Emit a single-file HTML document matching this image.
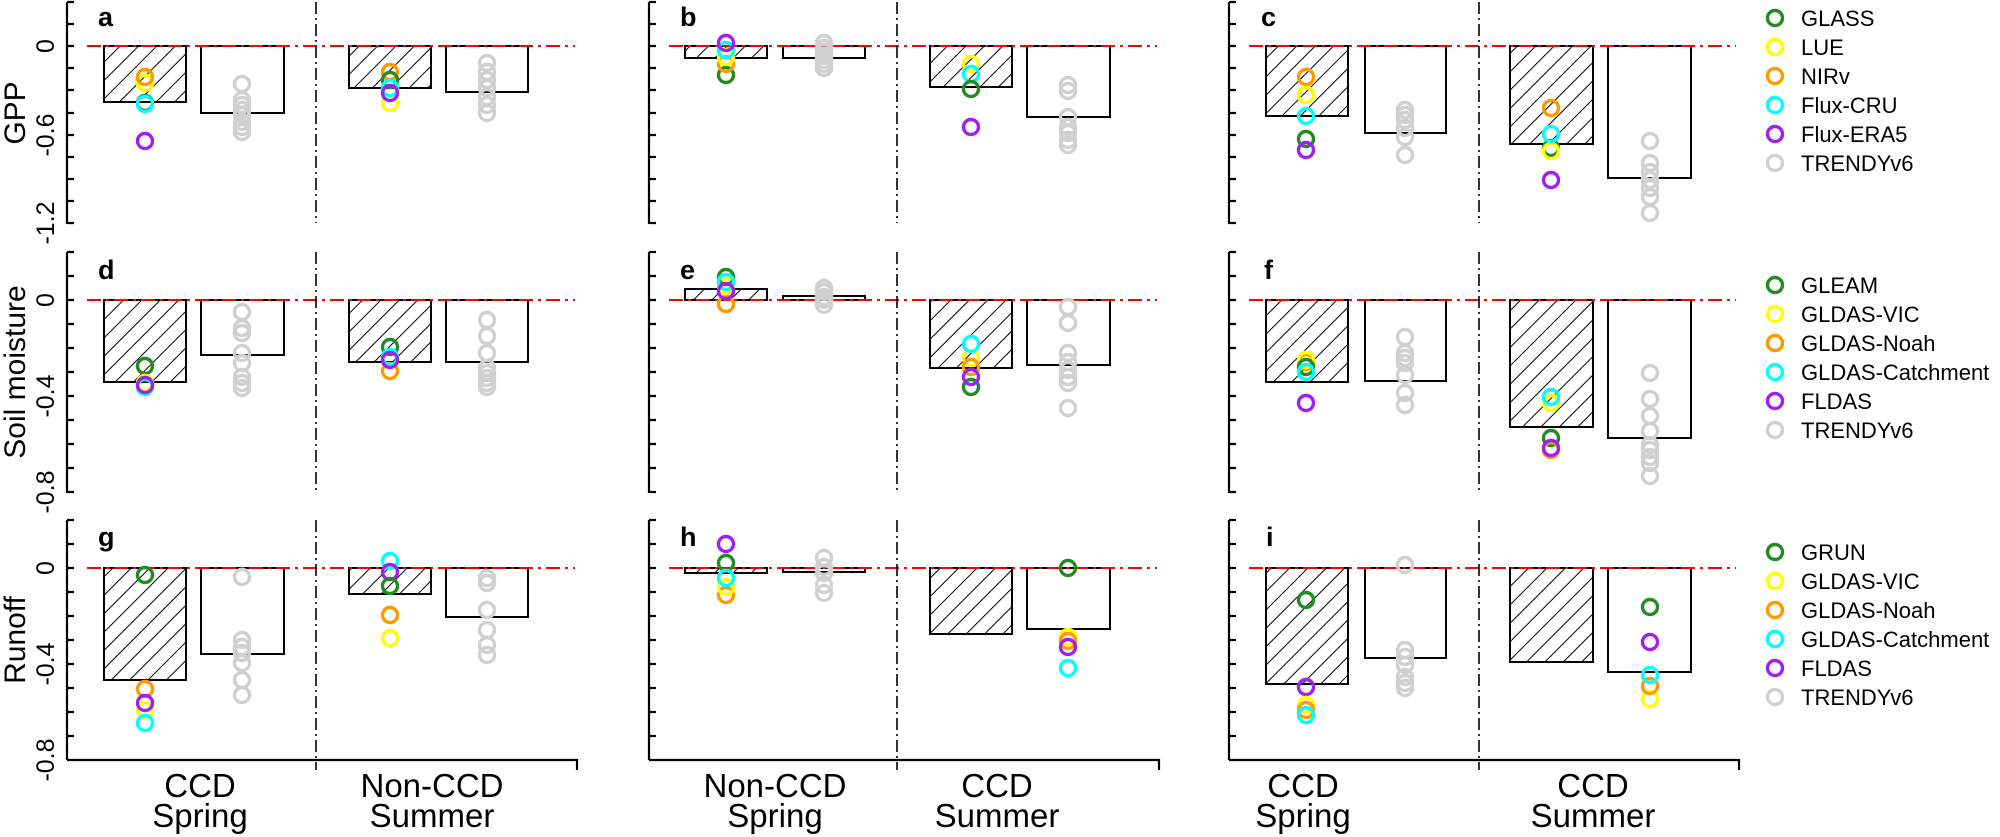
<!DOCTYPE html>
<html><head><meta charset="utf-8"><style>
html,body{margin:0;padding:0;background:#fff}
svg{display:block}
text{font-family:"Liberation Sans",Arial,sans-serif;fill:#000}
.ax{stroke:#000;stroke-width:2.2;fill:none}
.dv{stroke:#000;stroke-width:1.6;stroke-dasharray:12 4 2 4;fill:none}
.rd{stroke:#ff0000;stroke-width:2;stroke-dasharray:14 5 3 5;fill:none}
.hb{fill:url(#h);stroke:#000;stroke-width:2}
.ob{fill:none;stroke:#000;stroke-width:2}
circle{fill:none;stroke-width:3.4}
.G{stroke:#228B22}.Y{stroke:#FFFF00}.O{stroke:#FF9900}.C{stroke:#00FFFF}.P{stroke:#A020F0}.R{stroke:#D0D0D0}
.tl{font-size:25px}
.yl{font-size:30px}
.pl{font-size:27px;font-weight:bold}
.xl{font-size:33px}
.lg{font-size:22px}
</style></head><body>
<svg width="2000" height="837" viewBox="0 0 2000 837" xmlns="http://www.w3.org/2000/svg">
<defs>
<pattern id="h" patternUnits="userSpaceOnUse" width="13" height="13" patternTransform="rotate(45)">
<line x1="0" y1="0" x2="0" y2="13" stroke="#000" stroke-width="2"/>
</pattern>
</defs>

<rect class="hb" x="104" y="46" width="82" height="56"/>
<rect class="ob" x="201" y="46" width="83" height="67"/>
<rect class="hb" x="349" y="46" width="82" height="42"/>
<rect class="ob" x="446" y="46" width="82" height="46"/>
<rect class="hb" x="685" y="46" width="82" height="12"/>
<rect class="ob" x="783" y="46" width="82" height="12"/>
<rect class="hb" x="930" y="46" width="82" height="41"/>
<rect class="ob" x="1027" y="46" width="83" height="71"/>
<rect class="hb" x="1266" y="46" width="82" height="70"/>
<rect class="ob" x="1365" y="46" width="81" height="87"/>
<rect class="hb" x="1510" y="46" width="83" height="98"/>
<rect class="ob" x="1608" y="46" width="83" height="132"/>
<rect class="hb" x="104" y="300" width="82" height="82"/>
<rect class="ob" x="201" y="300" width="83" height="55"/>
<rect class="hb" x="349" y="300" width="82" height="62"/>
<rect class="ob" x="446" y="300" width="82" height="62"/>
<rect class="hb" x="685" y="289" width="82" height="11"/>
<rect class="ob" x="783" y="296" width="82" height="4"/>
<rect class="hb" x="930" y="300" width="82" height="68"/>
<rect class="ob" x="1027" y="300" width="83" height="65"/>
<rect class="hb" x="1266" y="300" width="82" height="82"/>
<rect class="ob" x="1365" y="300" width="81" height="81"/>
<rect class="hb" x="1510" y="300" width="83" height="127"/>
<rect class="ob" x="1608" y="300" width="83" height="138"/>
<rect class="hb" x="104" y="568" width="82" height="112"/>
<rect class="ob" x="201" y="568" width="83" height="86"/>
<rect class="hb" x="349" y="568" width="82" height="26"/>
<rect class="ob" x="446" y="568" width="82" height="49"/>
<rect class="hb" x="685" y="568" width="82" height="5"/>
<rect class="ob" x="783" y="568" width="82" height="4"/>
<rect class="hb" x="930" y="568" width="82" height="66"/>
<rect class="ob" x="1027" y="568" width="83" height="61"/>
<rect class="hb" x="1266" y="568" width="82" height="116"/>
<rect class="ob" x="1365" y="568" width="81" height="90"/>
<rect class="hb" x="1510" y="568" width="83" height="94"/>
<rect class="ob" x="1608" y="568" width="83" height="104"/>

<path class="rd" d="M87,46H575 M669,46H1157 M1249,46H1736 M87,300H575 M669,300H1157 M1249,300H1736 M87,568H575 M669,568H1157 M1249,568H1736"/>

<path class="dv" d="M316,2V223 M897,2V223 M1479,2V223 M316,252V492 M897,252V492 M1479,252V492 M316,520V770 M897,520V770 M1479,520V770"/>

<path class="ax" d="M67,2V224 M67,2h7 M67,24h7 M67,46h7 M67,68h7 M67,90h7 M67,113h7 M67,135h7 M67,157h7 M67,179h7 M67,201h7 M67,223h7"/>
<path class="ax" d="M649,2V224 M649,2h7 M649,24h7 M649,46h7 M649,68h7 M649,90h7 M649,113h7 M649,135h7 M649,157h7 M649,179h7 M649,201h7 M649,223h7"/>
<path class="ax" d="M1229,2V224 M1229,2h7 M1229,24h7 M1229,46h7 M1229,68h7 M1229,90h7 M1229,113h7 M1229,135h7 M1229,157h7 M1229,179h7 M1229,201h7 M1229,223h7"/>
<path class="ax" d="M67,252V493 M67,252h7 M67,276h7 M67,300h7 M67,324h7 M67,348h7 M67,372h7 M67,396h7 M67,420h7 M67,444h7 M67,468h7 M67,492h7"/>
<path class="ax" d="M649,252V493 M649,252h7 M649,276h7 M649,300h7 M649,324h7 M649,348h7 M649,372h7 M649,396h7 M649,420h7 M649,444h7 M649,468h7 M649,492h7"/>
<path class="ax" d="M1229,252V493 M1229,252h7 M1229,276h7 M1229,300h7 M1229,324h7 M1229,348h7 M1229,372h7 M1229,396h7 M1229,420h7 M1229,444h7 M1229,468h7 M1229,492h7"/>
<path class="ax" d="M67,520V760 M67,520h7 M67,544h7 M67,568h7 M67,592h7 M67,616h7 M67,640h7 M67,664h7 M67,688h7 M67,712h7 M67,736h7 M67,760H577V770"/>
<path class="ax" d="M649,520V760 M649,520h7 M649,544h7 M649,568h7 M649,592h7 M649,616h7 M649,640h7 M649,664h7 M649,688h7 M649,712h7 M649,736h7 M649,760H1159V770"/>
<path class="ax" d="M1229,520V760 M1229,520h7 M1229,544h7 M1229,568h7 M1229,592h7 M1229,616h7 M1229,640h7 M1229,664h7 M1229,688h7 M1229,712h7 M1229,736h7 M1229,760H1739V770"/>

<g class="tl" text-anchor="middle">
<text transform="translate(54,46) rotate(-90)">0</text>
<text transform="translate(54,135) rotate(-90)">-0.6</text>
<text transform="translate(54,223) rotate(-90)">-1.2</text>
<text transform="translate(54,300) rotate(-90)">0</text>
<text transform="translate(54,396) rotate(-90)">-0.4</text>
<text transform="translate(54,492) rotate(-90)">-0.8</text>
<text transform="translate(54,568) rotate(-90)">0</text>
<text transform="translate(54,664) rotate(-90)">-0.4</text>
<text transform="translate(54,760) rotate(-90)">-0.8</text>
</g>
<g class="yl" text-anchor="middle">
<text transform="translate(25,113) rotate(-90)">GPP</text>
<text transform="translate(25,372) rotate(-90)">Soil moisture</text>
<text transform="translate(25,640) rotate(-90)">Runoff</text>
</g>

<g class="pl">
<text x="98" y="26">a</text><text x="680" y="26">b</text><text x="1261" y="26">c</text>
<text x="98" y="279">d</text><text x="680" y="279">e</text><text x="1264" y="279">f</text>
<text x="98" y="546">g</text><text x="680" y="546">h</text><text x="1266" y="546">i</text>
</g>

<g class="xl" text-anchor="middle">
<text x="200" y="797">CCD</text><text x="200" y="827">Spring</text>
<text x="432" y="797">Non-CCD</text><text x="432" y="827">Summer</text>
<text x="775" y="797">Non-CCD</text><text x="775" y="827">Spring</text>
<text x="997" y="797">CCD</text><text x="997" y="827">Summer</text>
<text x="1303" y="797">CCD</text><text x="1303" y="827">Spring</text>
<text x="1593" y="797">CCD</text><text x="1593" y="827">Summer</text>
</g>

<g>
<circle class="R" cx="242" cy="84" r="7.5"/><circle class="R" cx="242" cy="100" r="7.5"/><circle class="R" cx="242" cy="105" r="7.5"/><circle class="R" cx="242" cy="110" r="7.5"/><circle class="R" cx="242" cy="115" r="7.5"/><circle class="R" cx="242" cy="122" r="7.5"/><circle class="R" cx="242" cy="127" r="7.5"/><circle class="R" cx="242" cy="132" r="7.5"/>
<circle class="Y" cx="145" cy="83" r="7.5"/><circle class="O" cx="145" cy="77" r="7.5"/><circle class="G" cx="145" cy="103" r="7.5"/><circle class="C" cx="145" cy="104" r="7.5"/><circle class="P" cx="145" cy="141" r="7.5"/>
<circle class="R" cx="487" cy="63" r="7.5"/><circle class="R" cx="487" cy="72" r="7.5"/><circle class="R" cx="487" cy="80" r="7.5"/><circle class="R" cx="487" cy="88" r="7.5"/><circle class="R" cx="487" cy="97" r="7.5"/><circle class="R" cx="487" cy="105" r="7.5"/><circle class="R" cx="487" cy="113" r="7.5"/>
<circle class="Y" cx="390" cy="103" r="7.5"/><circle class="O" cx="390" cy="72" r="7.5"/><circle class="G" cx="390" cy="80" r="7.5"/><circle class="C" cx="390" cy="88" r="7.5"/><circle class="P" cx="390" cy="93" r="7.5"/>
</g>
<g>
<circle class="R" cx="824" cy="43" r="7.5"/><circle class="R" cx="824" cy="48" r="7.5"/><circle class="R" cx="824" cy="52" r="7.5"/><circle class="R" cx="824" cy="56" r="7.5"/><circle class="R" cx="824" cy="60" r="7.5"/><circle class="R" cx="824" cy="64" r="7.5"/><circle class="R" cx="824" cy="68" r="7.5"/>
<circle class="G" cx="726" cy="75" r="7.5"/><circle class="O" cx="726" cy="64" r="7.5"/><circle class="Y" cx="726" cy="57" r="7.5"/><circle class="C" cx="726" cy="50" r="7.5"/><circle class="P" cx="726" cy="43" r="7.5"/>
<circle class="R" cx="1068" cy="85" r="7.5"/><circle class="R" cx="1068" cy="91" r="7.5"/><circle class="R" cx="1068" cy="117" r="7.5"/><circle class="R" cx="1068" cy="127" r="7.5"/><circle class="R" cx="1068" cy="133" r="7.5"/><circle class="R" cx="1068" cy="140" r="7.5"/><circle class="R" cx="1068" cy="145" r="7.5"/>
<circle class="Y" cx="971" cy="64" r="7.5"/><circle class="C" cx="971" cy="74" r="7.5"/><circle class="G" cx="971" cy="89" r="7.5"/><circle class="P" cx="971" cy="127" r="7.5"/>
</g>
<g>
<circle class="R" cx="1405" cy="110" r="7.5"/><circle class="R" cx="1405" cy="115" r="7.5"/><circle class="R" cx="1405" cy="120" r="7.5"/><circle class="R" cx="1405" cy="128" r="7.5"/><circle class="R" cx="1405" cy="137" r="7.5"/><circle class="R" cx="1405" cy="155" r="7.5"/>
<circle class="O" cx="1306" cy="77" r="7.5"/><circle class="Y" cx="1306" cy="95" r="7.5"/><circle class="C" cx="1306" cy="116" r="7.5"/><circle class="G" cx="1306" cy="139" r="7.5"/><circle class="P" cx="1306" cy="150" r="7.5"/>
<circle class="R" cx="1650" cy="141" r="7.5"/><circle class="R" cx="1650" cy="163" r="7.5"/><circle class="R" cx="1650" cy="172" r="7.5"/><circle class="R" cx="1650" cy="180" r="7.5"/><circle class="R" cx="1650" cy="188" r="7.5"/><circle class="R" cx="1650" cy="197" r="7.5"/><circle class="R" cx="1650" cy="213" r="7.5"/>
<circle class="O" cx="1551" cy="108" r="7.5"/><circle class="G" cx="1551" cy="148" r="7.5"/><circle class="Y" cx="1551" cy="151" r="7.5"/><circle class="C" cx="1551" cy="134" r="7.5"/><circle class="P" cx="1551" cy="180" r="7.5"/>
</g>
<g>
<circle class="R" cx="242" cy="312" r="7.5"/><circle class="R" cx="242" cy="328" r="7.5"/><circle class="R" cx="242" cy="333" r="7.5"/><circle class="R" cx="242" cy="353" r="7.5"/><circle class="R" cx="242" cy="363" r="7.5"/><circle class="R" cx="242" cy="377" r="7.5"/><circle class="R" cx="242" cy="383" r="7.5"/><circle class="R" cx="242" cy="388" r="7.5"/>
<circle class="G" cx="145" cy="366" r="7.5"/><circle class="O" cx="145" cy="386" r="7.5"/><circle class="Y" cx="145" cy="383" r="7.5"/><circle class="C" cx="145" cy="387" r="7.5"/><circle class="P" cx="145" cy="385" r="7.5"/>
<circle class="R" cx="487" cy="320" r="7.5"/><circle class="R" cx="487" cy="336" r="7.5"/><circle class="R" cx="487" cy="353" r="7.5"/><circle class="R" cx="487" cy="368" r="7.5"/><circle class="R" cx="487" cy="373" r="7.5"/><circle class="R" cx="487" cy="378" r="7.5"/><circle class="R" cx="487" cy="383" r="7.5"/><circle class="R" cx="487" cy="387" r="7.5"/>
<circle class="O" cx="390" cy="371" r="7.5"/><circle class="Y" cx="390" cy="360" r="7.5"/><circle class="G" cx="390" cy="347" r="7.5"/><circle class="C" cx="390" cy="357" r="7.5"/><circle class="P" cx="390" cy="360" r="7.5"/>
</g>
<g>
<circle class="R" cx="824" cy="288" r="7.5"/><circle class="R" cx="824" cy="292" r="7.5"/><circle class="R" cx="824" cy="297" r="7.5"/><circle class="R" cx="824" cy="300" r="7.5"/><circle class="R" cx="824" cy="305" r="7.5"/>
<circle class="O" cx="726" cy="304" r="7.5"/><circle class="Y" cx="726" cy="286" r="7.5"/><circle class="G" cx="726" cy="277" r="7.5"/><circle class="C" cx="726" cy="282" r="7.5"/><circle class="P" cx="726" cy="291" r="7.5"/>
<circle class="R" cx="1068" cy="307" r="7.5"/><circle class="R" cx="1068" cy="323" r="7.5"/><circle class="R" cx="1068" cy="353" r="7.5"/><circle class="R" cx="1068" cy="362" r="7.5"/><circle class="R" cx="1068" cy="370" r="7.5"/><circle class="R" cx="1068" cy="377" r="7.5"/><circle class="R" cx="1068" cy="383" r="7.5"/><circle class="R" cx="1068" cy="408" r="7.5"/>
<circle class="G" cx="971" cy="387" r="7.5"/><circle class="Y" cx="971" cy="358" r="7.5"/><circle class="O" cx="971" cy="367" r="7.5"/><circle class="C" cx="971" cy="344" r="7.5"/><circle class="P" cx="971" cy="377" r="7.5"/>
</g>
<g>
<circle class="R" cx="1405" cy="337" r="7.5"/><circle class="R" cx="1405" cy="353" r="7.5"/><circle class="R" cx="1405" cy="358" r="7.5"/><circle class="R" cx="1405" cy="363" r="7.5"/><circle class="R" cx="1405" cy="375" r="7.5"/><circle class="R" cx="1405" cy="393" r="7.5"/><circle class="R" cx="1405" cy="405" r="7.5"/>
<circle class="O" cx="1306" cy="362" r="7.5"/><circle class="Y" cx="1306" cy="360" r="7.5"/><circle class="G" cx="1306" cy="367" r="7.5"/><circle class="C" cx="1306" cy="372" r="7.5"/><circle class="P" cx="1306" cy="403" r="7.5"/>
<circle class="R" cx="1650" cy="373" r="7.5"/><circle class="R" cx="1650" cy="399" r="7.5"/><circle class="R" cx="1650" cy="416" r="7.5"/><circle class="R" cx="1650" cy="431" r="7.5"/><circle class="R" cx="1650" cy="445" r="7.5"/><circle class="R" cx="1650" cy="450" r="7.5"/><circle class="R" cx="1650" cy="457" r="7.5"/><circle class="R" cx="1650" cy="463" r="7.5"/><circle class="R" cx="1650" cy="476" r="7.5"/>
<circle class="Y" cx="1551" cy="403" r="7.5"/><circle class="C" cx="1551" cy="397" r="7.5"/><circle class="G" cx="1551" cy="438" r="7.5"/><circle class="O" cx="1551" cy="450" r="7.5"/><circle class="P" cx="1551" cy="448" r="7.5"/>
</g>
<g>
<circle class="R" cx="242" cy="577" r="7.5"/><circle class="R" cx="242" cy="640" r="7.5"/><circle class="R" cx="242" cy="647" r="7.5"/><circle class="R" cx="242" cy="653" r="7.5"/><circle class="R" cx="242" cy="663" r="7.5"/><circle class="R" cx="242" cy="680" r="7.5"/><circle class="R" cx="242" cy="695" r="7.5"/>
<circle class="G" cx="145" cy="575" r="7.5"/><circle class="O" cx="145" cy="689" r="7.5"/><circle class="Y" cx="145" cy="710" r="7.5"/><circle class="P" cx="145" cy="703" r="7.5"/><circle class="C" cx="145" cy="723" r="7.5"/>
<circle class="R" cx="487" cy="578" r="7.5"/><circle class="R" cx="487" cy="583" r="7.5"/><circle class="R" cx="487" cy="610" r="7.5"/><circle class="R" cx="487" cy="630" r="7.5"/><circle class="R" cx="487" cy="645" r="7.5"/><circle class="R" cx="487" cy="655" r="7.5"/>
<circle class="C" cx="390" cy="561" r="7.5"/><circle class="P" cx="390" cy="572" r="7.5"/><circle class="G" cx="390" cy="586" r="7.5"/><circle class="O" cx="390" cy="615" r="7.5"/><circle class="Y" cx="390" cy="638" r="7.5"/>
</g>
<g>
<circle class="R" cx="824" cy="558" r="7.5"/><circle class="R" cx="824" cy="567" r="7.5"/><circle class="R" cx="824" cy="573" r="7.5"/><circle class="R" cx="824" cy="585" r="7.5"/><circle class="R" cx="824" cy="593" r="7.5"/>
<circle class="P" cx="726" cy="544" r="7.5"/><circle class="G" cx="726" cy="563" r="7.5"/><circle class="O" cx="726" cy="595" r="7.5"/><circle class="Y" cx="726" cy="587" r="7.5"/><circle class="C" cx="726" cy="578" r="7.5"/>
<circle class="G" cx="1068" cy="568" r="7.5"/><circle class="Y" cx="1068" cy="637" r="7.5"/><circle class="O" cx="1068" cy="641" r="7.5"/><circle class="P" cx="1068" cy="647" r="7.5"/><circle class="C" cx="1068" cy="668" r="7.5"/>
</g>
<g>
<circle class="R" cx="1405" cy="565" r="7.5"/><circle class="R" cx="1405" cy="650" r="7.5"/><circle class="R" cx="1405" cy="657" r="7.5"/><circle class="R" cx="1405" cy="665" r="7.5"/><circle class="R" cx="1405" cy="677" r="7.5"/><circle class="R" cx="1405" cy="683" r="7.5"/><circle class="R" cx="1405" cy="688" r="7.5"/>
<circle class="G" cx="1306" cy="600" r="7.5"/><circle class="P" cx="1306" cy="687" r="7.5"/><circle class="Y" cx="1306" cy="705" r="7.5"/><circle class="O" cx="1306" cy="710" r="7.5"/><circle class="C" cx="1306" cy="715" r="7.5"/>
<circle class="G" cx="1650" cy="607" r="7.5"/><circle class="P" cx="1650" cy="642" r="7.5"/><circle class="Y" cx="1650" cy="699" r="7.5"/><circle class="O" cx="1650" cy="686" r="7.5"/><circle class="C" cx="1650" cy="675" r="7.5"/>
</g>

<g class="lg">
<circle class="G" cx="1775" cy="18" r="7.5"/><text x="1801" y="26">GLASS</text>
<circle class="Y" cx="1775" cy="47" r="7.5"/><text x="1801" y="55">LUE</text>
<circle class="O" cx="1775" cy="76" r="7.5"/><text x="1801" y="84">NIRv</text>
<circle class="C" cx="1775" cy="105" r="7.5"/><text x="1801" y="113">Flux-CRU</text>
<circle class="P" cx="1775" cy="134" r="7.5"/><text x="1801" y="142">Flux-ERA5</text>
<circle class="R" cx="1775" cy="163" r="7.5"/><text x="1801" y="171">TRENDYv6</text>

<circle class="G" cx="1775" cy="285" r="7.5"/><text x="1801" y="293">GLEAM</text>
<circle class="Y" cx="1775" cy="314" r="7.5"/><text x="1801" y="322">GLDAS-VIC</text>
<circle class="O" cx="1775" cy="343" r="7.5"/><text x="1801" y="351">GLDAS-Noah</text>
<circle class="C" cx="1775" cy="372" r="7.5"/><text x="1801" y="380">GLDAS-Catchment</text>
<circle class="P" cx="1775" cy="401" r="7.5"/><text x="1801" y="409">FLDAS</text>
<circle class="R" cx="1775" cy="430" r="7.5"/><text x="1801" y="438">TRENDYv6</text>

<circle class="G" cx="1775" cy="552" r="7.5"/><text x="1801" y="560">GRUN</text>
<circle class="Y" cx="1775" cy="581" r="7.5"/><text x="1801" y="589">GLDAS-VIC</text>
<circle class="O" cx="1775" cy="610" r="7.5"/><text x="1801" y="618">GLDAS-Noah</text>
<circle class="C" cx="1775" cy="639" r="7.5"/><text x="1801" y="647">GLDAS-Catchment</text>
<circle class="P" cx="1775" cy="668" r="7.5"/><text x="1801" y="676">FLDAS</text>
<circle class="R" cx="1775" cy="697" r="7.5"/><text x="1801" y="705">TRENDYv6</text>
</g>
</svg>
</body></html>
